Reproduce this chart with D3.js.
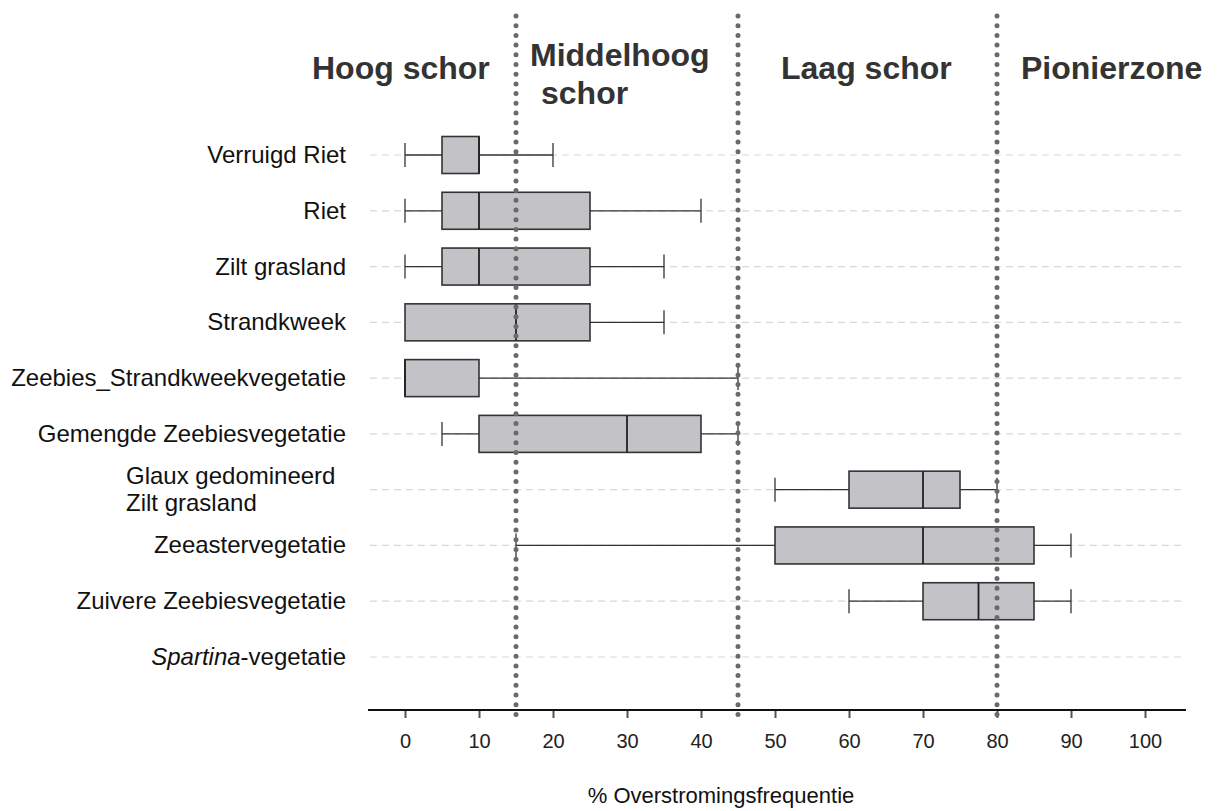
<!DOCTYPE html>
<html><head><meta charset="utf-8">
<script src="https://cdn.jsdelivr.net/npm/d3@7"></script>
<style>body{margin:0;background:#fff}svg{display:block}text{font-family:"Liberation Sans",Arial,sans-serif}</style>
</head><body>
<svg id="c" width="1226" height="811"></svg>
<script>
const categories = ["Verruigd Riet","Riet","Zilt grasland","Strandkweek","Zeebies_Strandkweekvegetatie","Gemengde Zeebiesvegetatie","Glaux gedomineerd|Zilt grasland","Zeeastervegetatie","Zuivere Zeebiesvegetatie","Spartina-vegetatie"];
const whiskerLow  = [0, 0, 0, 0, 0, 5, 50, 15, 60, null];
const q1          = [5, 5, 5, 0, 0, 10, 60, 50, 70, null];
const median      = [10, 10, 10, 15, 0, 30, 70, 70, 77.5, null];
const q3          = [10, 25, 25, 25, 10, 40, 75, 85, 85, null];
const whiskerHigh = [20, 40, 35, 35, 45, 45, 80, 90, 90, null];
const zoneBounds  = [15, 45, 80];
const zoneLabels  = [["Hoog schor"],["Middelhoog","schor"],["Laag schor"],["Pionierzone"]];
const xTicks      = [0,10,20,30,40,50,60,70,80,90,100];
const xTitle      = "% Overstromingsfrequentie";

const svg = d3.select("#c");
const x = d3.scaleLinear().domain([0,100]).range([405,1145]);
const y = d3.scalePoint().domain(categories).range([155,657]);

// grid lines
svg.append("g").selectAll("line").data(categories).join("line")
  .attr("x1",370).attr("x2",1185).attr("y1",d=>y(d)).attr("y2",d=>y(d))
  .attr("stroke","#d8d8d8").attr("stroke-width",1.2).attr("stroke-dasharray","7,5");

// axis
const ax = svg.append("g").attr("transform","translate(0,710)")
  .call(d3.axisBottom(x).tickValues(xTicks).tickSize(8).tickPadding(16));
ax.select(".domain").remove();
ax.selectAll(".tick line").attr("stroke","#555").attr("stroke-width",2);
ax.selectAll(".tick text").attr("font-size",20).attr("fill","#222").attr("font-family","Liberation Sans, Arial, sans-serif");
svg.append("line").attr("x1",368).attr("x2",1186).attr("y1",710).attr("y2",710).attr("stroke","#111").attr("stroke-width",2);

svg.append("text").attr("x",721).attr("y",803).attr("text-anchor","middle").attr("font-size",22).attr("fill","#111").text(xTitle);

// boxes
const data = categories.map((c,i)=>({c,lo:whiskerLow[i],q1:q1[i],med:median[i],q3:q3[i],hi:whiskerHigh[i]})).filter(d=>d.q1!==null);
const bh = 37, ch = 24;
const g = svg.append("g");
data.forEach(d=>{
  const cy = y(d.c);
  const s = g.append("g");
  if (d.lo < d.q1) {
    s.append("line").attr("x1",x(d.lo)).attr("x2",x(d.q1)).attr("y1",cy).attr("y2",cy).attr("stroke","#333").attr("stroke-width",1.3);
    s.append("line").attr("x1",x(d.lo)).attr("x2",x(d.lo)).attr("y1",cy-ch/2).attr("y2",cy+ch/2).attr("stroke","#333").attr("stroke-width",1.3);
  }
  if (d.hi > d.q3) {
    s.append("line").attr("x1",x(d.q3)).attr("x2",x(d.hi)).attr("y1",cy).attr("y2",cy).attr("stroke","#333").attr("stroke-width",1.3);
    s.append("line").attr("x1",x(d.hi)).attr("x2",x(d.hi)).attr("y1",cy-ch/2).attr("y2",cy+ch/2).attr("stroke","#333").attr("stroke-width",1.3);
  }
  s.append("rect").attr("x",x(d.q1)).attr("y",cy-bh/2).attr("width",x(d.q3)-x(d.q1)).attr("height",bh)
    .attr("fill","#c3c3c7").attr("stroke","#333").attr("stroke-width",1.6);
  s.append("line").attr("x1",x(d.med)).attr("x2",x(d.med)).attr("y1",cy-bh/2).attr("y2",cy+bh/2).attr("stroke","#222").attr("stroke-width",1.8);
});

// zone dotted lines
svg.append("g").selectAll("line").data(zoneBounds).join("line")
  .attr("x1",d=>x(d)).attr("x2",d=>x(d)).attr("y1",16).attr("y2",718)
  .attr("stroke","#6a6a6a").attr("stroke-width",5).attr("stroke-linecap","round").attr("stroke-dasharray","0,9.7");

// category labels
const lab = svg.append("g").attr("font-size",24).attr("fill","#111");
categories.forEach(c=>{
  const cy = y(c);
  if (c.includes("|")) {
    const parts = c.split("|");
    parts.forEach((p,k)=>lab.append("text").attr("x",126).attr("y",cy-6+k*27).text(p));
  } else if (c.startsWith("Spartina")) {
    const t = lab.append("text").attr("x",346).attr("y",cy+8).attr("text-anchor","end");
    t.append("tspan").attr("font-style","italic").text("Spartina");
    t.append("tspan").text("-vegetatie");
  } else {
    lab.append("text").attr("x",346).attr("y",cy+8).attr("text-anchor","end").text(c);
  }
});

// zone headers
const hdr = svg.append("g").attr("font-size",32).attr("font-weight","bold").attr("fill","#333");
const hpos = [{x:312,y:[79]},{x:530,y:[66,104]},{x:781,y:[79]},{x:1021,y:[79]}];
zoneLabels.forEach((lines,i)=>{
  lines.forEach((t,k)=>hdr.append("text").attr("x",hpos[i].x+(k>0?11:0)).attr("y",hpos[i].y[k]).text(t));
});
</script>
</body></html>
